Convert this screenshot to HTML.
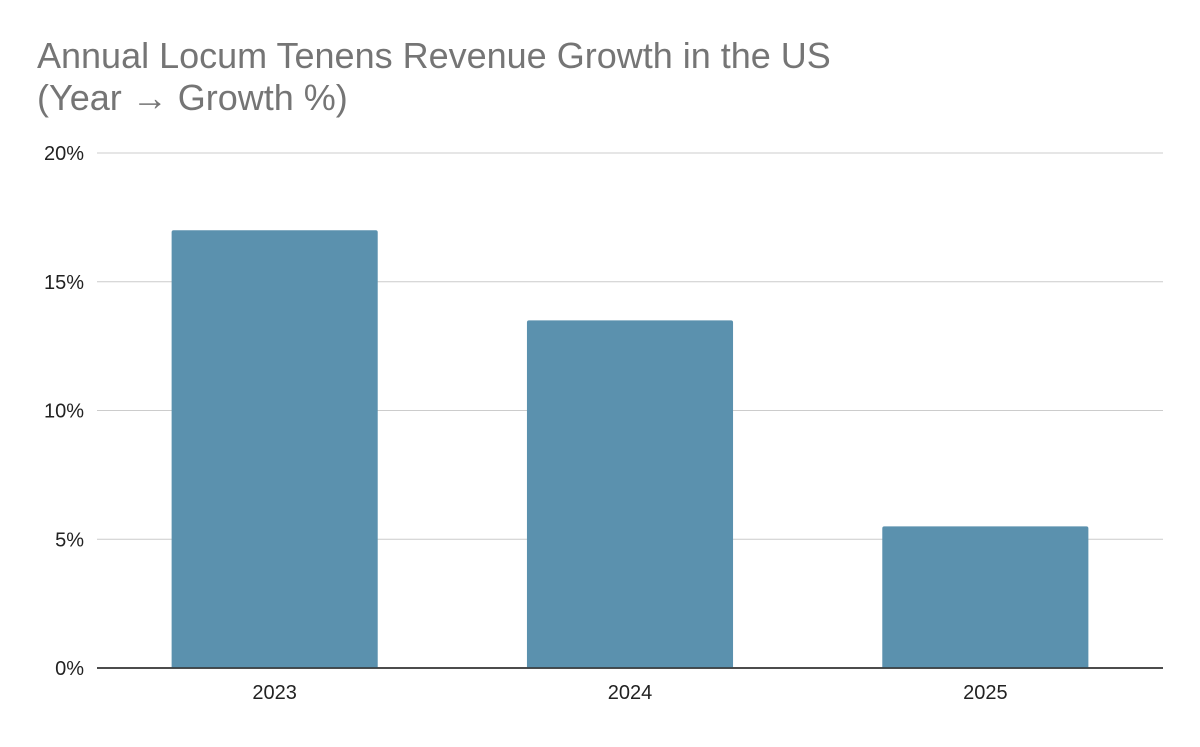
<!DOCTYPE html>
<html>
<head>
<meta charset="utf-8">
<style>
  html,body{margin:0;padding:0;background:#fff;}
  body{width:1200px;height:742px;overflow:hidden;font-family:"Liberation Sans",Arial,sans-serif;}
</style>
</head>
<body>
<svg id="chart" width="1200" height="742" xmlns="http://www.w3.org/2000/svg">
  <rect width="1200" height="742" fill="#fff"/>
  <text x="37" y="68" font-size="36" fill="#757575" font-family="Liberation Sans, Arial, sans-serif">Annual Locum Tenens Revenue Growth in the US</text>
  <text x="37" y="110" font-size="36" fill="#757575" font-family="Liberation Sans, Arial, sans-serif">(Year → Growth %)</text>
  <g id="grid"></g>
  <g id="bars"></g>
  <g id="xlabels"></g>
</svg>
<script>
const categories = ["2023", "2024", "2025"];
const growthValues = [17, 13.5, 5.5];
const yTicks = [0, 5, 10, 15, 20];
const yTickLabels = ["0%", "5%", "10%", "15%", "20%"];

const NS = "http://www.w3.org/2000/svg";
const plotLeft = 97, plotRight = 1163, plotTop = 153, plotBottom = 668;
const yMax = 20;
function yScale(v){ return plotBottom - (v / yMax) * (plotBottom - plotTop); }
const band = (plotRight - plotLeft) / categories.length;
function xCenter(i){ return plotLeft + band * (i + 0.5); }
const barWidth = band * 0.58;

const grid = document.getElementById("grid");
yTicks.forEach((t, i) => {
  const y = yScale(t);
  const line = document.createElementNS(NS, "line");
  
  
  line.setAttribute("x1", plotLeft); line.setAttribute("x2", plotRight);
  line.setAttribute("y1", y); line.setAttribute("y2", y);
  line.setAttribute("stroke", t === 0 ? "#333" : "#ccc");
  line.setAttribute("stroke-width", t === 0 ? 1.5 : 1);
  grid.appendChild(line);
  const lab = document.createElementNS(NS, "text");
  
  
  lab.setAttribute("x", 84); lab.setAttribute("y", y + 7);
  lab.setAttribute("text-anchor", "end");
  lab.setAttribute("font-size", "20"); lab.setAttribute("fill", "#222");
  lab.textContent = yTickLabels[i];
  grid.appendChild(lab);
});

const bars = document.getElementById("bars");
const xl = document.getElementById("xlabels");
categories.forEach((c, i) => {
  const top = yScale(growthValues[i]);
  const r = document.createElementNS(NS, "path");
  
  
  const x0 = xCenter(i) - barWidth / 2, x1 = xCenter(i) + barWidth / 2, rr = 2;
  r.setAttribute("d", `M${x0},${plotBottom} L${x0},${top+rr} Q${x0},${top} ${x0+rr},${top} L${x1-rr},${top} Q${x1},${top} ${x1},${top+rr} L${x1},${plotBottom} Z`);
  r.setAttribute("fill", "#5b91ae");
  bars.appendChild(r);
  const t = document.createElementNS(NS, "text");
  
  
  t.setAttribute("x", xCenter(i)); t.setAttribute("y", 699);
  t.setAttribute("text-anchor", "middle");
  t.setAttribute("font-size", "20"); t.setAttribute("fill", "#222");
  t.textContent = c;
  xl.appendChild(t);
});
// redraw baseline on top of bars
const base = document.createElementNS(NS, "line");


base.setAttribute("x1", plotLeft); base.setAttribute("x2", plotRight);
base.setAttribute("y1", plotBottom); base.setAttribute("y2", plotBottom);
base.setAttribute("stroke", "#333"); base.setAttribute("stroke-width", 1.5);
document.getElementById("chart").appendChild(base);
</script>
</body>
</html>
